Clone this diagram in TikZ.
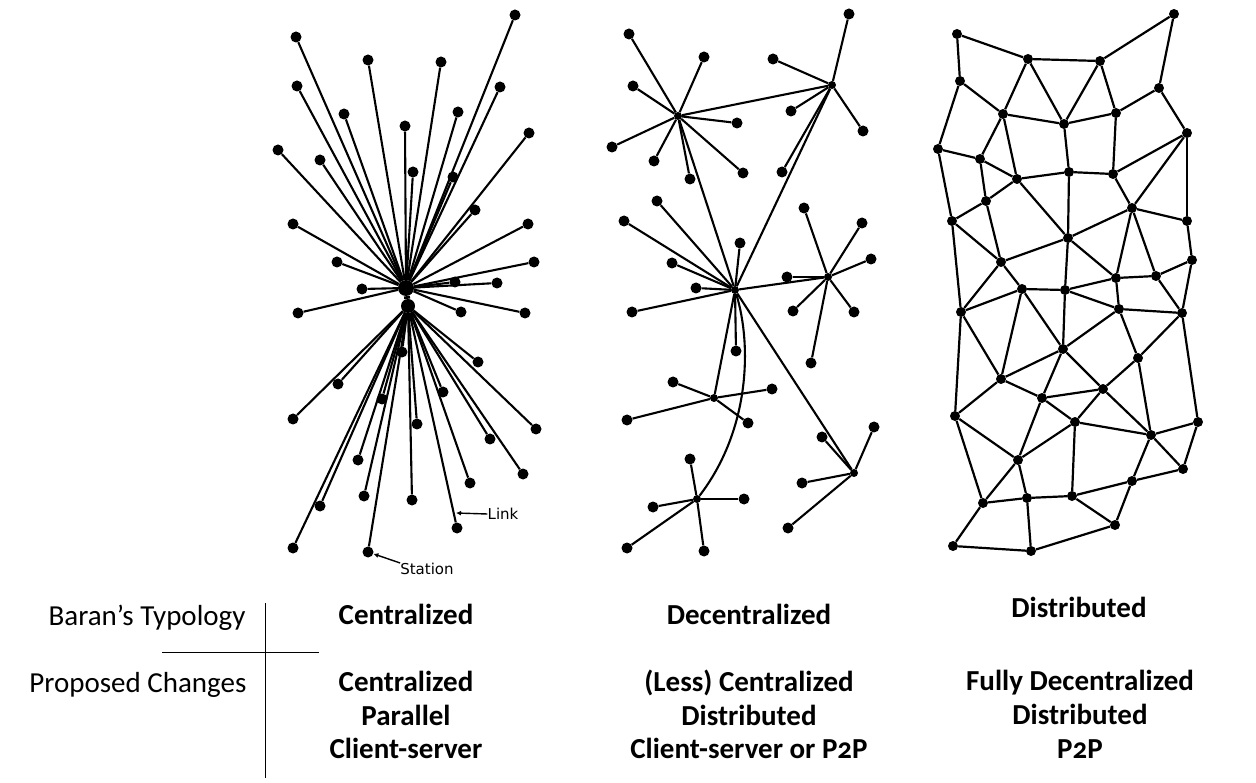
\documentclass[tikz,border=0pt]{standalone}
\usepackage{fontspec}
\setmainfont[Numbers=OldStyle]{Carlito}
\newfontfamily\tagfont{DejaVu Sans}
\usetikzlibrary{arrows.meta}

\tikzset{
  dot/.style={circle, fill=black, inner sep=0pt, minimum size=11pt},
  hub/.style={circle, fill=black, inner sep=0pt, minimum size=8pt},
  wire/.style={line width=2.1pt},
  mesh/.style={line width=2.2pt},
  head/.style={font=\fontsize{29}{34}\selectfont\bfseries, anchor=base},
  side/.style={font=\fontsize{29}{34}\selectfont, anchor=base east},
  tag/.style={font=\tagfont\fontsize{15}{18}\selectfont, inner sep=0pt},
}

\begin{document}
\begin{tikzpicture}[x=1pt, y=-1pt]
    \useasboundingbox (0,0) rectangle (1256,783);

    % centralized: one hub, every station on it
    \node[hub, minimum size=16pt](cA) at (406,288){};
    \node[hub, minimum size=14pt](cB) at (408,306){};
    \foreach \n/\x/\y in {c1/296/37, c2/515/15, c3/368/60, c4/441/62,
        c5/297/86, c6/500/87, c7/344/114, c8/458/112, c9/405/126,
        c10/529/133, c11/278/150, c12/320/160, c13/413/172, c14/453/177,
        c15/475/210, c16/293/224, c17/528/224, c18/337/262, c19/534/262,
        c20/455/282, c21/497/283, c22/362/289, c23/298/313, c24/461/312,
        c25/525/313, c26/402/352, c27/478/362, c28/338/384, c29/443/392,
        c30/382/399, c31/293/419, c32/417/424, c33/536/429, c34/490/439,
        c35/358/460, c36/523/474, c37/470/483, c38/364/496, c39/320/506,
        c40/412/500, c41/457/528, c42/293/548, c43/368/552}
      \node[dot](\n) at (\x,\y){};
    \foreach \i in {1,...,25} \draw[wire] (cA) -- (c\i);
    \foreach \i in {26,...,43} \draw[wire] (cB) -- (c\i);
    \draw[line width=6pt] (cA) -- (cB);

    % link and station tags
    \coordinate (linkpt) at (456,513);
    \node[tag](Link) at (503,514){Link};
    \draw[line width=1.4pt, -{Latex[length=5pt,width=5pt]}] (Link.west) -- (linkpt);
    \node[tag](Station) at (427,569){Station};
    \draw[line width=1.4pt, -{Latex[length=5pt,width=5pt]}]
      (Station.north west) -- (c43);

    % decentralized: hubs
    \node[hub](d1) at (678,116){};
    \node[hub](d2) at (832,85){};
    \node[hub](d3) at (735,290){};
    \node[hub](d4) at (828,277){};
    \node[hub](d5) at (714,398){};
    \node[hub](d6) at (697,499){};
    \node[hub](d7) at (854,473){};
    \draw[wire] (d1) -- (d2);
    \draw[wire] (d1) -- (d3);
    \draw[wire] (d2) -- (d3);
    \draw[wire] (d3) -- (d4);
    \draw[wire] (d3) -- (d5);
    \draw[wire] (d3) -- (d7);
    \draw[wire] (d3) .. controls (752,345) and (750,430) .. (d6);

    % decentralized: stations of each hub
    \foreach \x/\y [count=\i] in {629/34, 704/57, 633/86, 737/123,
        612/147, 654/161, 690/179, 743/173}
      {\node[dot](d1s\i) at (\x,\y){}; \draw[wire] (d1) -- (d1s\i);}
    \foreach \x/\y [count=\i] in {849/14, 773/59, 791/111, 863/131, 782/172}
      {\node[dot](d2s\i) at (\x,\y){}; \draw[wire] (d2) -- (d2s\i);}
    \foreach \x/\y [count=\i] in {624/221, 657/201, 740/243, 672/263,
        696/288, 632/312, 736/351}
      {\node[dot](d3s\i) at (\x,\y){}; \draw[wire] (d3) -- (d3s\i);}
    \foreach \x/\y [count=\i] in {804/208, 862/223, 871/259, 787/277,
        793/311, 854/312, 811/363}
      {\node[dot](d4s\i) at (\x,\y){}; \draw[wire] (d4) -- (d4s\i);}
    \foreach \x/\y [count=\i] in {673/382, 772/389, 627/420, 748/423}
      {\node[dot](d5s\i) at (\x,\y){}; \draw[wire] (d5) -- (d5s\i);}
    \foreach \x/\y [count=\i] in {690/459, 653/507, 744/499, 627/548, 704/551}
      {\node[dot](d6s\i) at (\x,\y){}; \draw[wire] (d6) -- (d6s\i);}
    \foreach \x/\y [count=\i] in {822/437, 874/427, 802/483, 788/528}
      {\node[dot](d7s\i) at (\x,\y){}; \draw[wire] (d7) -- (d7s\i);}

    % distributed: the mesh
    \foreach \n/\x/\y in {A/957/34, B/1028/59, C/1100/61, D/1174/14,
        E/960/81, F/1159/88, G/1003/114, H/1064/124, I/1116/113,
        J/1187/133, K/938/149, L/980/159, M/1017/179, N/1069/172,
        O/1113/174, P/986/201, Q/1132/208, R/952/221, S/1187/221,
        T/1068/238, U/1001/262, V/1192/260, W/1116/278, X/1156/276,
        Y/1022/289, Z/1065/290, a1/961/312, a2/1119/309, a3/1182/313,
        a4/1063/349, a5/1138/358, a6/1001/379, a7/1042/398, a8/1103/389,
        a9/955/416, a10/1075/422, a11/1151/435, a12/1198/422,
        a13/1018/460, a14/1183/469, a15/1132/481, a16/983/503,
        a17/1027/498, a18/1072/496, a19/1115/525, a20/953/546,
        a21/1031/551}
      \node[dot, minimum size=10pt](\n) at (\x,\y){};
    \foreach \a/\b in {A/B, A/E, B/C, C/D, D/F, B/G, B/H, C/H, C/I, E/G,
        E/K, G/H, H/I, I/F, F/J, G/L, G/M, H/N, I/O, K/L, K/R, L/M, L/P,
        M/N, N/O, O/J, J/Q, J/S, O/Q, M/T, N/T, P/M, P/R, P/U, Q/T, Q/S,
        Q/W, Q/X, S/V, R/U, R/a1, T/U, T/Z, T/W, U/Y, U/a1, W/X, W/Z,
        X/V, V/a3, W/a2, X/a3, Y/Z, Y/a1, Y/a6, Y/a4, Z/a2, Z/a4, a2/a3,
        a2/a4, a2/a5, a3/a5, a3/a12, a1/a6, a1/a9, a4/a6, a4/a7, a4/a8,
        a5/a8, a5/a11, a6/a7, a6/a9, a7/a8, a7/a10, a8/a10, a8/a11,
        a7/a13, a10/a13, a10/a11, a10/a18, a11/a12, a11/a14, a12/a14,
        a11/a15, a14/a15, a9/a13, a9/a16, a13/a16, a13/a17, a16/a17,
        a17/a18, a18/a15, a18/a19, a15/a19, a16/a20, a17/a21, a20/a21,
        a21/a19}
      \draw[mesh] (\a) -- (\b);

    % table
    \draw[line width=0.8pt] (265,603) -- (265,778);
    \draw[line width=0.8pt] (162,652) -- (319,652);
    \node[side](baran) at (249,625){Baran’s Typology};
    \node[side](proposed) at (250,692){Proposed Changes};

    \node[head](centr) at (406,624){Centralized};
    \node[head](decentr) at (749,624){Decentralized};
    \node[head](distr) at (1079,617){Distributed};

    \node[head](centr1) at (406,691){Centralized};
    \node[head](centr2) at (406,725){Parallel};
    \node[head](centr3) at (406,758){Client-server};
    \node[head](decentr1) at (749,691){(Less) Centralized};
    \node[head](decentr2) at (749,725){Distributed};
    \node[head](decentr3) at (749,758){Client-server or P2P};
    \node[head](distr1) at (1080,690){Fully Decentralized};
    \node[head](distr2) at (1080,724){Distributed};
    \node[head](distr3) at (1080,758){P2P};
\end{tikzpicture}
\end{document}
